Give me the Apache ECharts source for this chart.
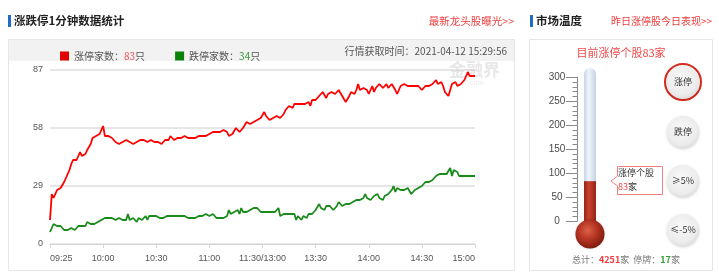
<!DOCTYPE html>
<html>
<head>
<meta charset="utf-8">
<script src="https://cdn.jsdelivr.net/npm/echarts@6/dist/echarts.min.js"></script>
<style>
html,body{margin:0;padding:0;background:#fff;}
#c{width:719px;height:276px;}
</style>
</head>
<body>
<div id="c"></div>
<script>
// ---- data ----
const tickLabels = ['09:25','10:00','10:30','11:00','11:30/13:00','13:30','14:00','14:30','15:00'];
const tickStep = 30;
const yTicks = [0, 29, 58, 87];
const limitUp = [
12,25,23,25,27,28,28,29,31,33,
35,37,40,42,42,42,41,46,44,44,
45,47,48,50,53,52,54,54,55,55,
59,54,54,54,53,53,52,51,50,50,
50,51,50,52,51,51,50,50,51,51,
52,52,52,52,51,51,52,52,51,51,
52,51,50,50,51,52,52,52,54,53,
52,53,53,52,53,54,54,54,53,53,
53,53,53,53,54,55,54,53,54,55,
55,56,56,56,56,56,56,57,57,57,
56,54,55,55,56,58,57,56,57,58,
59,61,60,60,61,61,62,62,63,63,
64,66,64,63,62,63,63,63,64,64,
63,64,65,67,68,69,69,68,70,69,
70,71,70,69,70,71,71,69,72,72,
72,73,74,75,76,75,73,75,76,76,
76,75,76,77,76,74,73,71,72,74,
76,75,75,77,80,77,77,78,78,77,
75,77,79,76,78,79,80,79,78,79,
80,78,79,80,79,77,75,77,79,80,
80,79,79,80,79,78,79,80,79,78,
77,78,79,79,79,80,80,80,82,80,
80,81,79,76,75,74,77,80,81,81,
79,79,80,81,82,81,86,84,84,84,
84];
const limitDown = [
6,8,10,9,9,10,9,8,7,7,
7,7,8,8,7,8,9,9,9,9,
9,11,11,10,9,10,10,11,11,12,
12,13,13,13,13,13,12,12,12,13,
12,12,12,12,15,12,11,13,12,11,
13,13,12,13,14,12,14,15,14,14,
14,15,13,12,13,14,14,14,14,13,
14,14,14,14,14,14,14,13,13,13,
13,13,13,13,14,13,14,13,15,14,
14,14,15,14,13,14,13,12,13,14,
14,17,15,15,16,16,17,15,18,16,
17,16,16,17,17,18,19,18,17,16,
16,16,16,16,16,16,16,16,15,18,
14,15,15,15,15,15,15,15,15,12,
14,14,12,14,13,13,15,14,15,16,
17,17,20,18,17,17,19,19,19,18,
17,18,19,21,20,19,20,20,20,20,
21,21,22,22,23,22,22,23,25,23,
22,22,21,24,25,25,23,23,22,24,
25,25,26,27,29,26,28,27,27,27,
27,26,28,27,25,26,27,27,28,28,
29,30,31,31,31,32,32,32,34,34,
35,34,35,34,35,36,38,34,37,36,
36,34,34,34,34,34,34,34,34,34,
34];
const upNow = 83, downNow = 34;
const updateTime = '2021-04-12 15:29:56';
const thermoCats = ['涨停'];
const thermoValues = [83];
const thermoTicks = [0, 50, 100, 150, 200, 250, 300];
const thermoScale = [0,10,20,30,40,50,60,70,80,90,100,110,120,130,140,150,160,170,180,190,200,210,220,230,240,250,260,270,280,290,300];
const totalStocks = 4251, halted = 17;
const buttons = ['涨停', '跌停', '≥5%', '≤-5%'];

// minute categories: 09:30-11:30, 13:01-15:00
const categories = [];
function hm(m){ const h = Math.floor(m/60), mm = m%60; return (h<10?'0':'')+h+':'+(mm<10?'0':'')+mm; }
for (let m = 9*60+30; m <= 11*60+30; m++) categories.push(hm(m));
for (let m = 13*60+1; m <= 15*60; m++) categories.push(hm(m));

const FONT = '"Noto Sans CJK SC", "Liberation Sans", sans-serif';
const chart = echarts.init(document.getElementById('c'), null, {renderer: 'canvas'});

const btnY = [82, 132, 181, 230];
const btnGraphics = [];
buttons.forEach((b, i) => {
  if (i === 0) {
    btnGraphics.push({type:'circle', shape:{cx:683, cy:btnY[i], r:18}, style:{fill:'none', stroke:'#d42a1e', lineWidth:2}, z:10});
  }
  btnGraphics.push({type:'circle', shape:{cx:683, cy:btnY[i], r:16},
    style:{fill:{type:'radial', x:0.45, y:0.4, r:0.7, colorStops:[{offset:0,color:'#f8f8f8'},{offset:0.7,color:'#ececec'},{offset:1,color:'#d6d6d6'}]},
      shadowBlur:3, shadowColor:'rgba(0,0,0,0.18)', shadowOffsetY:1}, z:10});
  btnGraphics.push({type:'text', x:683, y:btnY[i], style:{text:b, fill:'#333', font:'9px ' + FONT, textAlign:'center', textVerticalAlign:'middle'}, z:11});
});

const tMin = thermoTicks[0], tMax = thermoTicks[thermoTicks.length-1], tMajor = thermoTicks[1]-thermoTicks[0];

const option = {
  animation: false,
  backgroundColor: '#fff',
  textStyle: {fontFamily: FONT},
  legend: {
    left: 55, top: 46, itemWidth: 9, itemHeight: 9, itemGap: 30, icon: 'rect',
    data: ['涨停家数', '跌停家数'],
    formatter: function(name){
      return name === '涨停家数' ? '涨停家数：{u|' + upNow + '}只' : '跌停家数：{d|' + downNow + '}只';
    },
    textStyle: {color:'#555', fontSize:10, fontFamily: FONT,
      rich: {u:{color:'#f25555', fontSize:10, fontFamily: FONT}, d:{color:'#3a9a3a', fontSize:10, fontFamily: FONT}}}
  },
  grid: [
    {left: 50, top: 70, width: 425, height: 174},
    {left: 577, top: 77, width: 26, height: 144}
  ],
  xAxis: [
    {type:'category', gridIndex:0, data: categories, boundaryGap:false,
     axisLine:{lineStyle:{color:'#d6d6d6'}},
     axisTick:{show:true, length:4, lineStyle:{color:'#d6d6d6'}, interval: (i) => i % tickStep === 0},
     axisLabel:{color:'#555', fontSize:9, margin:10, fontFamily:'"Liberation Sans", Arial, sans-serif',
       interval: (i) => i % tickStep === 0,
       formatter: (v, i) => tickLabels[i / tickStep] || '',
       alignMinLabel:'left', alignMaxLabel:'right'},
     splitLine:{show:false}},
    {type:'category', gridIndex:1, data: thermoCats, show:false}
  ],
  yAxis: [
    {type:'value', gridIndex:0, min: yTicks[0], max: yTicks[yTicks.length-1], interval: yTicks[1]-yTicks[0],
     axisLine:{show:false}, axisTick:{show:false},
     axisLabel:{color:'#555', fontSize:9, margin:7, fontFamily:'"Liberation Sans", Arial, sans-serif'},
     splitLine:{lineStyle:{color:'#e6e6e6', width:2}}},
    {type:'value', gridIndex:1, min: tMin, max: tMax, interval: tMajor, position:'left', z:20,
     axisLine:{show:true, lineStyle:{color:'#8a8a8a'}},
     axisTick:{show:true, length:11, lineStyle:{color:'#8a8a8a'}},
     axisLabel:{color:'#4a4a4a', fontSize:10, margin:20, align:'center', fontFamily:'"Liberation Sans", Arial, sans-serif'},
     splitLine:{show:false}}
  ],
  series: [
    {name:'涨停家数', type:'line', xAxisIndex:0, yAxisIndex:0, data: limitUp, symbol:'none',
     itemStyle:{color:'#e00000'}, lineStyle:{color:'#ff0000', width:1.8}, z:3},
    {name:'跌停家数', type:'line', xAxisIndex:0, yAxisIndex:0, data: limitDown, symbol:'none',
     itemStyle:{color:'#0a820a'}, lineStyle:{color:'#1a8a1a', width:1.8}, z:3},
    {name:'温度', type:'bar', xAxisIndex:1, yAxisIndex:1, data: thermoValues, barWidth:12,
     itemStyle:{color:{type:'linear', x:0, y:0, x2:1, y2:0, colorStops:[{offset:0,color:'#962315'},{offset:0.4,color:'#c8432e'},{offset:1,color:'#952215'}]}}, z:5},
    {name:'刻度', type:'custom', xAxisIndex:1, yAxisIndex:1, silent:true, z:6, clip:false,
     data: thermoScale.map(v => [0, v]), encode:{x:0, y:1},
     renderItem: function(params, api){
       const v = api.value(1);
       const p = api.coord([0, v]);
       const band = api.size([1, 0])[0];
       const x0 = Math.round(p[0] - band / 2) + 0.5;
       const y = Math.round(p[1]) + 0.5;
       const len = (v % tMajor === 0) ? 11 : 5;
       const children = [{type:'line', shape:{x1:x0 - len, y1:y, x2:x0, y2:y}, style:{stroke:'#8a8a8a', lineWidth:1}}];
       if (v === tMin) {
         const top = api.coord([0, tMax]);
         children.push({type:'line', shape:{x1:x0, y1:Math.round(top[1]) + 0.5, x2:x0, y2:y}, style:{stroke:'#8a8a8a', lineWidth:1}});
       }
       return {type:'group', children: children};
     }}
  ],
  graphic: [
    // panels
    {type:'rect', shape:{x:8.5, y:39.5, width:506, height:231}, style:{fill:'none', stroke:'#e6e6e6', lineWidth:1}, z:-10},
    {type:'rect', shape:{x:9, y:40, width:505, height:21}, style:{fill:'#f2f2f2'}, z:-9},
    {type:'rect', shape:{x:529.5, y:39.5, width:183, height:231}, style:{fill:'none', stroke:'#e6e6e6', lineWidth:1}, z:-10},
    // headings
    {type:'rect', shape:{x:8, y:15, width:3, height:12}, style:{fill:'#1f6fc0'}},
    {type:'text', x:14, y:21, style:{text:'涨跌停1分钟数据统计', fill:'#222', font:'bold 11.5px ' + FONT, textVerticalAlign:'middle'}},
    {type:'text', x:514, y:21, style:{text:'最新龙头股曝光>>', fill:'#f03c3c', font:'10.5px ' + FONT, textAlign:'right', textVerticalAlign:'middle'}},
    {type:'rect', shape:{x:530, y:15, width:3, height:12}, style:{fill:'#1f6fc0'}},
    {type:'text', x:536, y:21, style:{text:'市场温度', fill:'#222', font:'bold 11.5px ' + FONT, textVerticalAlign:'middle'}},
    {type:'text', x:712, y:21, style:{text:'昨日涨停股今日表现>>', fill:'#f03c3c', font:'10px ' + FONT, textAlign:'right', textVerticalAlign:'middle'}},
    // header time
    {type:'text', x:507, y:51, style:{text:'行情获取时间：' + updateTime, fill:'#555', font:'10px ' + FONT, textAlign:'right', textVerticalAlign:'middle'}},
    // watermark
    {type:'text', x:449, y:61, style:{text:'金融界', fill:'rgba(190,190,190,0.35)', font:'bold 17px ' + FONT}, z:1},
    {type:'text', x:468, y:79, style:{text:'.com', fill:'rgba(190,190,190,0.35)', font:'7px ' + FONT}, z:1},
    // thermometer panel
    {type:'text', x:621, y:53, style:{text:'目前涨停个股' + upNow + '家', fill:'#f04848', font:'11px ' + FONT, textAlign:'center', textVerticalAlign:'middle'}},
    {type:'rect', shape:{x:584, y:68, width:12, height:158, r:[6,6,0,0]},
     style:{fill:{type:'linear', x:0, y:0, x2:1, y2:0, colorStops:[{offset:0,color:'#c7d4e8'},{offset:0.4,color:'#f1f5fb'},{offset:1,color:'#c4d1e6'}]}}, z:1},
    {type:'circle', shape:{cx:590, cy:234, r:14.5},
     style:{fill:{type:'radial', x:0.42, y:0.38, r:0.65, colorStops:[{offset:0,color:'#dc6047'},{offset:0.55,color:'#b0311f'},{offset:1,color:'#7a1a0f'}]},
       shadowBlur:2, shadowColor:'rgba(0,0,0,0.25)'}, z:20},
    // callout
    {type:'polygon', shape:{points:[[617.5,166.5],[662.5,166.5],[662.5,194.5],[617.5,194.5],[617.5,186],[611,181],[617.5,176]]},
     style:{fill:'#fff', stroke:'#ef8080', lineWidth:1}, z:20},
    {type:'text', x:618, y:173, style:{text:'涨停个股', fill:'#333', font:'9px ' + FONT, textVerticalAlign:'middle'}, z:21},
    {type:'text', x:618, y:187, style:{text:'{r|' + thermoValues[0] + '}家', fill:'#333', font:'9px ' + FONT, textVerticalAlign:'middle',
      rich:{r:{fill:'#f04848', font:'9px ' + FONT}}}, z:21},
    // footer
    {type:'text', x:572, y:260, style:{text:'总计：{r|' + totalStocks + '}家  停牌：{g|' + halted + '}家', fill:'#777', font:'9px ' + FONT, textVerticalAlign:'middle',
      rich:{r:{fill:'#f03c3c', font:'bold 9px ' + FONT}, g:{fill:'#33a033', font:'bold 9px ' + FONT}}}, z:21}
  ].concat(btnGraphics)
};
chart.setOption(option);
</script>
</body>
</html>
